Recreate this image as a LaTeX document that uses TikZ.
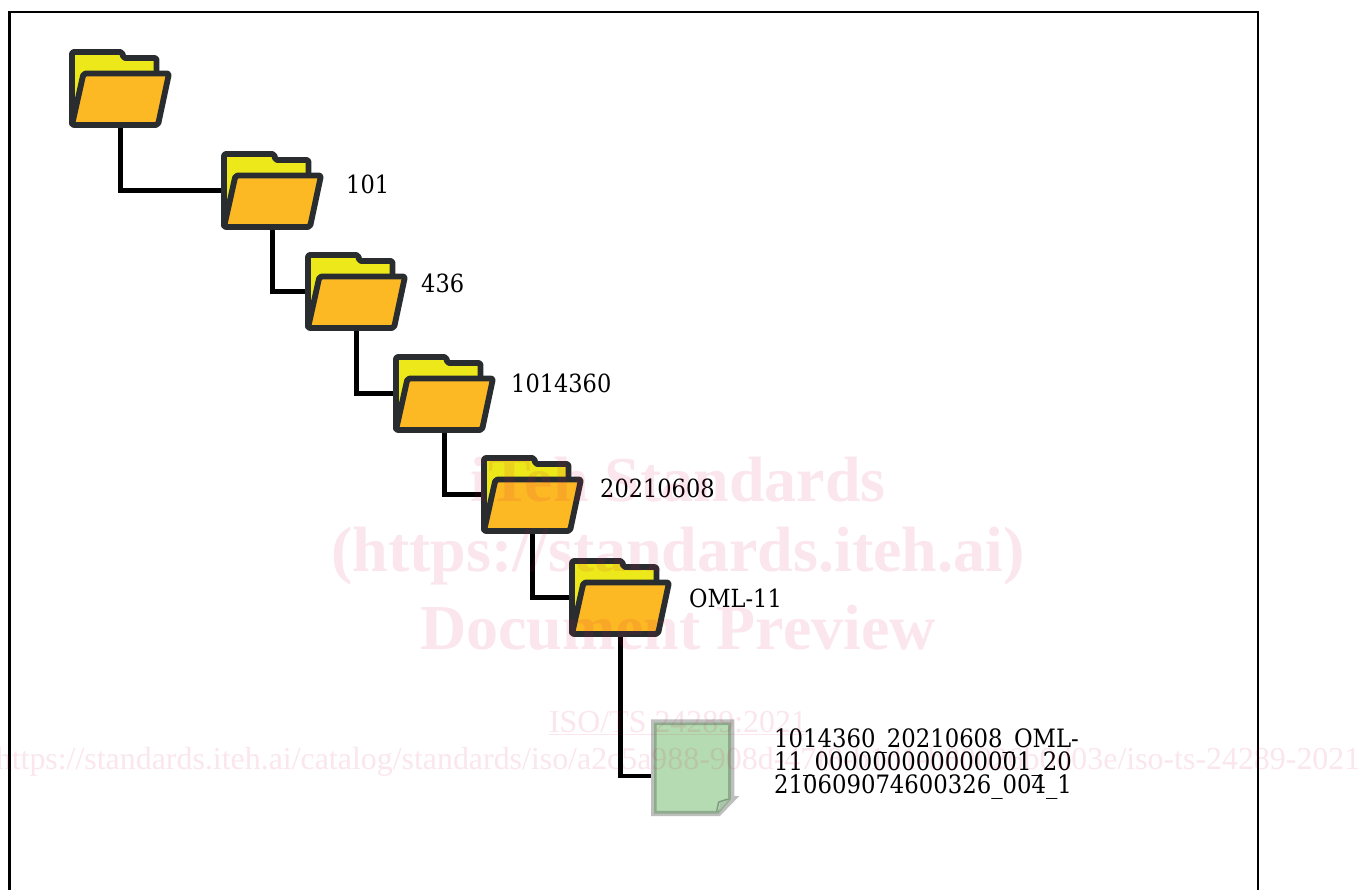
\documentclass[tikz,border=0pt]{standalone}
\usepackage{fontspec}
\setmainfont{Liberation Serif}
\newfontfamily\labelfont{DejaVu Serif Condensed}
\lineskiplimit=-50pt
\definecolor{fdark}{HTML}{2A2D2F}
\definecolor{fyellow}{HTML}{ECE81A}
\definecolor{forange}{HTML}{FDB924}
\definecolor{wm}{HTML}{D01048}
\definecolor{docgreen}{HTML}{B5DBB2}
\definecolor{docband}{HTML}{8FAB8E}
\definecolor{docgray}{HTML}{BDBFBD}
\definecolor{docfold}{HTML}{7F9B80}
\definecolor{docflap}{HTML}{A9C4A6}
\tikzset{
  x=1pt,y=-1pt,
  folderbox/.style={minimum width=103pt,minimum height=79pt,inner sep=0pt,outer sep=0pt,anchor=north west},
  folderpic/.pic={
    \draw[fdark,fill=fyellow,line width=5.8pt,line join=round,rounded corners=2pt]
      (3,76)--(3,3)--(53.5,3)--(54,9)--(87.5,9)--(87.5,30)--(3,76)--cycle;
    \draw[fdark,fill=forange,line width=5.8pt,line join=round,rounded corners=2pt]
      (14.5,24.5)--(100,24.5)--(89,76)--(3,76)--cycle;
  },
  link/.style={black,line width=4.2pt,line join=miter},
  flabel/.style={font=\labelfont\fontsize{25}{25}\selectfont,anchor=west,inner sep=0pt,text=black},
  wmbig/.style={font=\bfseries\fontsize{64}{64}\selectfont,text=wm,text opacity=.10,inner sep=0pt,anchor=center},
  wmsmall/.style={font=\fontsize{31.9}{32}\selectfont,text=wm,text opacity=.10,inner sep=0pt,anchor=center},
}
\begin{document}
\begin{tikzpicture}
\useasboundingbox (0,0) rectangle (1362,890);
\fill[white] (0,0) rectangle (1362,890);
\draw[black,line width=2.2pt] (9.5,895) -- (9.5,12) -- (1258,12) -- (1258,895);

\node[folderbox] (f1) at (69,49) {};
\node[folderbox] (f2) at (221,151) {};
\node[folderbox] (f3) at (305,252) {};
\node[folderbox] (f4) at (393,354) {};
\node[folderbox] (f5) at (481,455) {};
\node[folderbox] (f6) at (569,558) {};
\coordinate (d) at (653,776);

\draw[link] (f1.south) |- (f2.west);
\draw[link] (f2.south) |- (f3.west);
\draw[link] (f3.south) |- (f4.west);
\draw[link] (f4.south) |- (f5.west);
\draw[link] (f5.south) |- (f6.west);
\draw[link] (f6.south) |- (d);

\pic at (f1.north west) {folderpic};
\pic at (f2.north west) {folderpic};
\pic at (f3.north west) {folderpic};
\pic at (f4.north west) {folderpic};
\pic at (f5.north west) {folderpic};
\pic at (f6.north west) {folderpic};

% document
\fill[docgray] (651,719.3)--(734.3,719.3)--(734.3,796)--(739.3,796)--(720,816)--(651,816)--cycle;
\draw[line width=2.6pt,draw=docband,fill=docgreen,line join=miter]
  (655.3,723.8)--(729.5,723.8)--(729.5,799)--(718,812.2)--(655.3,812.2)--cycle;
\fill[docflap] (719,811)--(720,803)--(729,800)--cycle;
\fill[docfold] (717.3,811)--(719.3,802.7)--(729.5,799.3)--(727,798.5)--(718,801.5)--(716,811)--cycle;

\node[flabel] (l2) at (346,184.5) {101};
\node[flabel] (l3) at (421,283.5) {436};
\node[flabel] (l4) at (511,383.5) {1014360};
\node[flabel] (l5) at (600,488) {20210608};
\node[flabel] (l6) at (689,598) {OML-11};
\node[flabel,align=left,font=\labelfont\fontsize{25.3}{23}\selectfont] (l7) at (774,764) {1014360\_20210608\_OML-\\11\_000000000000001\_20\\210609074600326\_004\_1};

% watermark
\node[wmbig] (w1) at (678,480) {iTeh Standards};
\node[wmbig] (w2) at (678,556) {(https://standards.iteh.ai)};
\node[wmbig] (w3) at (678,628) {Document Preview};
\node[wmsmall] (w4) at (678,723) {\underline{ISO/TS 24289:2021}};
\node[wmsmall] (w5) at (678,762) {https://standards.iteh.ai/catalog/standards/iso/a2c5a988-908d-47f8-b1d1-b80026b0d03e/iso-ts-24289-2021};
\end{tikzpicture}
\end{document}
